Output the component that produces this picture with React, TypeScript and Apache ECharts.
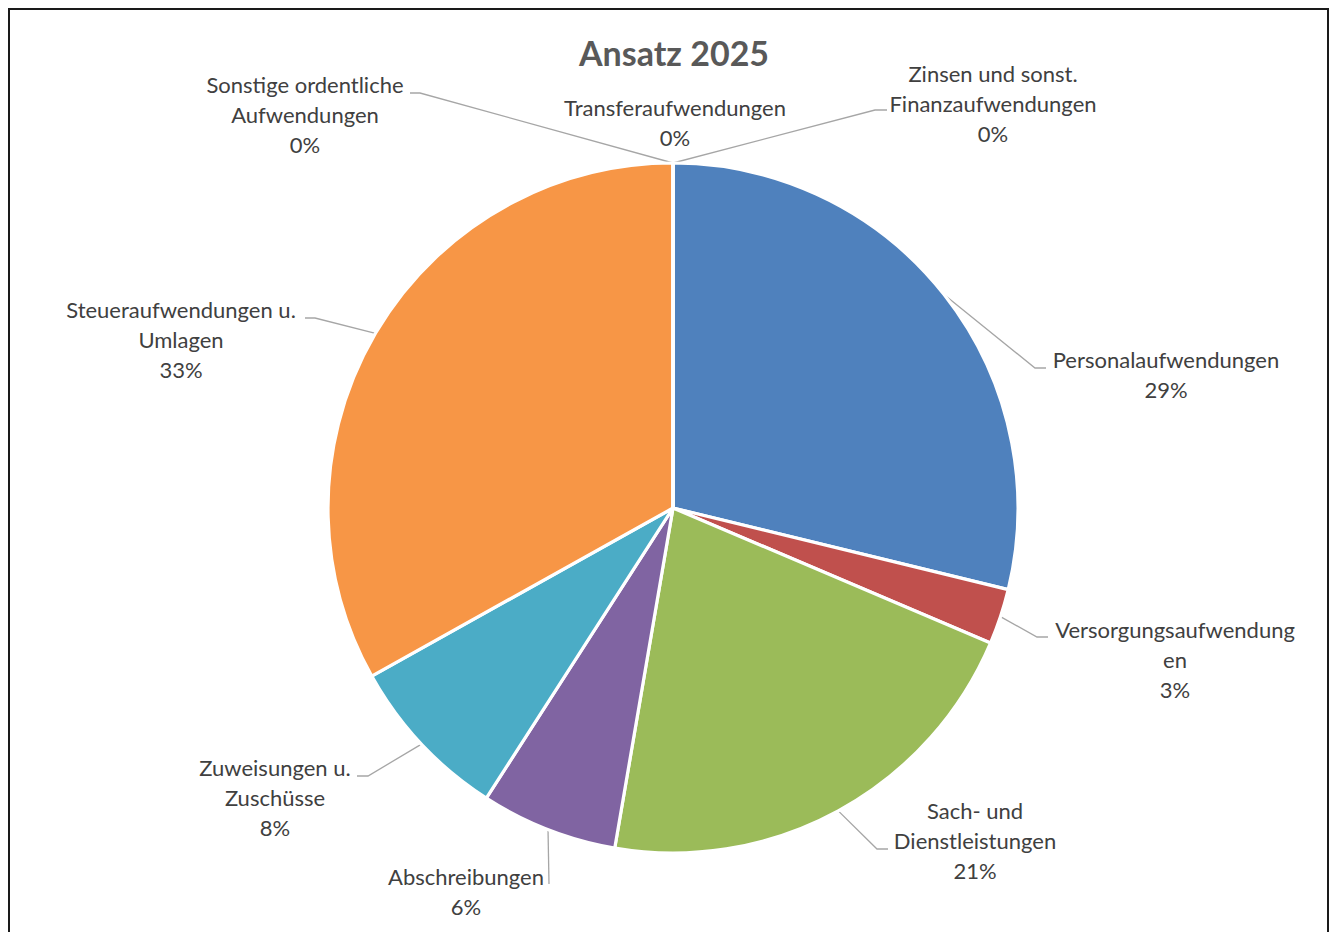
import React, { useEffect, useRef } from "react";
import * as echarts from "echarts";

// Shares in percent
const categories = [
  "Personalaufwendungen",
  "Versorgungsaufwendungen",
  "Sach- und Dienstleistungen",
  "Abschreibungen",
  "Zuweisungen u. Zuschüsse",
  "Steueraufwendungen u. Umlagen",
  "Sonstige ordentliche Aufwendungen",
  "Transferaufwendungen",
  "Zinsen und sonst. Finanzaufwendungen",
];
const values = [28.8, 2.6, 21.3, 6.4, 7.8, 33.1, 0, 0, 0];
// Wrapped label text as shown in the chart
const labelNames = [
  "Personalaufwendungen",
  "Versorgungsaufwendung\nen",
  "Sach- und\nDienstleistungen",
  "Abschreibungen",
  "Zuweisungen u.\nZuschüsse",
  "Steueraufwendungen u.\nUmlagen",
  "Sonstige ordentliche\nAufwendungen",
  "Transferaufwendungen",
  "Zinsen und sonst.\nFinanzaufwendungen",
];
const colors = ["#4F81BD", "#C0504D", "#9BBB59", "#8064A2", "#4BACC6", "#F79646", "#2C4D75", "#772C2A", "#5F7530"];

// Label placement (layout only): [centerX, topY, elbowX, elbowY, endX, endY] ; null elbow => no leader
const labelPlacement: (number | null)[][] = [
  [1166, 344, 1035, 368, 1046, 368],
  [1175, 614, 1037, 637, 1048, 637],
  [975, 795, 877, 849, 888, 849],
  [466, 861, 549, 884, 549, 884],
  [275, 752, 368, 776, 357, 776],
  [181, 294, 315, 318, 305, 318],
  [305, 69, 420, 93, 410, 93],
  [675, 92, null, null, null, null],
  [993, 58, 875, 110, 887, 110],
];

export default function App() {
  const ref = useRef<HTMLDivElement>(null);
  useEffect(() => {
    if (!ref.current) return;
    const chart = echarts.init(ref.current, undefined, { renderer: "svg" });
    const font = "Lato";
    chart.setOption({
      animation: false,
      backgroundColor: "#ffffff",
      title: {
        text: "Ansatz 2025",
        left: 669,
        textAlign: "center",
        top: 30,
        textStyle: { fontFamily: font, fontSize: 34, fontWeight: "bold", color: "#595959" },
      },
      graphic: [
        {
          type: "rect",
          shape: { x: 9, y: 9, width: 1319, height: 1000 },
          style: { fill: "none", stroke: "#1a1a1a", lineWidth: 2 },
          silent: true,
        },
      ],
      series: [
        {
          type: "pie",
          center: [673, 508],
          radius: 345,
          startAngle: 90,
          clockwise: true,
          avoidLabelOverlap: false,
          percentPrecision: 0,
          itemStyle: { borderColor: "#ffffff", borderWidth: 3.2 },
          label: {
            show: true,
            position: "outside",
            fontFamily: font,
            fontSize: 22,
            lineHeight: 30,
            color: "#404040",
            align: "center",
            formatter: (p: any) => `${labelNames[p.dataIndex]}\n${p.percent}%`,
          },
          labelLine: { show: true, length: 20, length2: 10, lineStyle: { color: "#A6A6A6", width: 1.3 } },
          labelLayout: (params: any) => {
            const pl = labelPlacement[params.dataIndex];
            const pts = params.labelLinePoints;
            const start =
              pts && pts.length ? pts[0] : [params.rect.x + params.rect.width / 2, params.rect.y];
            const res: any = {
              x: pl[0],
              y: pl[1],
              align: "center",
              verticalAlign: "top",
            };
            if (pl[2] == null) {
              res.labelLinePoints = [start, start, start];
            } else {
              res.labelLinePoints = [start, [pl[2], pl[3]], [pl[4], pl[5]]];
            }
            return res;
          },
          data: categories.map((c, i) => ({
            name: c,
            value: values[i],
            itemStyle: { color: colors[i] },
          })),
        },
      ],
    });
    return () => chart.dispose();
  }, []);
  return (
    <div
      ref={ref}
      style={{ position: "absolute", left: 0, top: 0, width: "1336px", height: "932px" }}
    />
  );
}
